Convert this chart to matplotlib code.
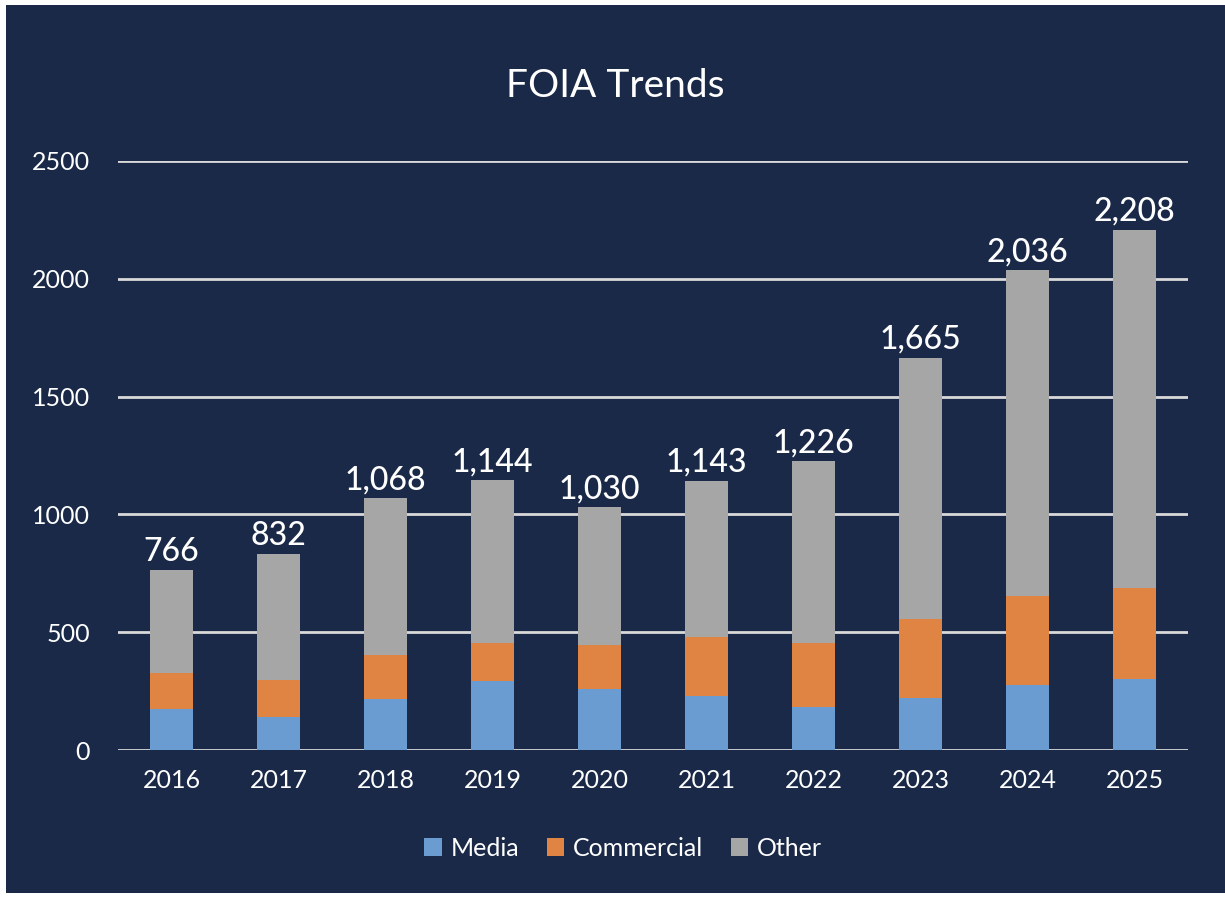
import matplotlib
matplotlib.use("Agg")
import matplotlib.pyplot as plt
from matplotlib.patches import Rectangle
import numpy as np

# data
years = ['2016', '2017', '2018', '2019', '2020', '2021', '2022', '2023', '2024', '2025']
media = [174, 140, 215, 292, 260, 231, 184, 219, 275, 302]
commercial = [153, 156, 188, 162, 184, 247, 270, 336, 377, 385]
other = [439, 536, 665, 690, 586, 665, 772, 1110, 1384, 1521]
totals = [766, 832, 1068, 1144, 1030, 1143, 1226, 1665, 2036, 2208]

NAVY = '#1a2948'
BLUE = '#6a9bd1'
ORANGE = '#e08444'
GRAY = '#a6a6a6'

plt.rcParams['font.family'] = ['Lato', 'DejaVu Sans']

fig = plt.figure(figsize=(12.25, 8.97), dpi=100, facecolor='white')
# navy panel with a thin white edge on the left/top/bottom
fig.patches.append(Rectangle((6 / 1225, 4 / 897), 1 - 6 / 1225, 1 - 9 / 897,
                             transform=fig.transFigure, facecolor=NAVY,
                             edgecolor='none', zorder=-10))

ax = fig.add_axes([118 / 1225, 1 - 750 / 897, 1070 / 1225, 589 / 897])
ax.set_facecolor('none')

x = np.arange(len(years))
w = 0.4
media = np.array(media)
commercial = np.array(commercial)
other = np.array(other)

ax.bar(x, media, w, color=BLUE, label='Media', zorder=3)
ax.bar(x, commercial, w, bottom=media, color=ORANGE, label='Commercial', zorder=3)
ax.bar(x, other, w, bottom=media + commercial, color=GRAY, label='Other', zorder=3)

for xi, t in zip(x, totals):
    ax.text(xi, t + 12, f'{t:,}', ha='center', va='bottom', color='white',
            fontsize=23, fontweight='medium')

ax.set_xlim(-0.5, len(years) - 0.5)
ax.set_ylim(0, 2500)
ax.set_yticks([0, 500, 1000, 1500, 2000, 2500])
ax.set_xticks(x)
ax.set_xticklabels(years)
ax.yaxis.grid(True, color='#d9d9d9', linewidth=2, zorder=0)
ax.set_axisbelow(True)
for s in ax.spines.values():
    s.set_visible(False)
ax.tick_params(axis='both', length=0, colors='white', labelsize=18)
ax.tick_params(axis='y', pad=20)
ax.tick_params(axis='x', pad=14)

fig.text(615 / 1225, 1 - 86 / 897, 'FOIA Trends', ha='center', va='center',
         color='white', fontsize=28)

leg = ax.legend(loc='center', bbox_to_anchor=(0.472, -0.167), ncol=3, frameon=False,
                fontsize=18, handlelength=0.7, handleheight=0.7, handletextpad=0.35,
                columnspacing=1.1)
for txt in leg.get_texts():
    txt.set_color('white')

fig.savefig('out.png', dpi=100, facecolor=fig.get_facecolor())
